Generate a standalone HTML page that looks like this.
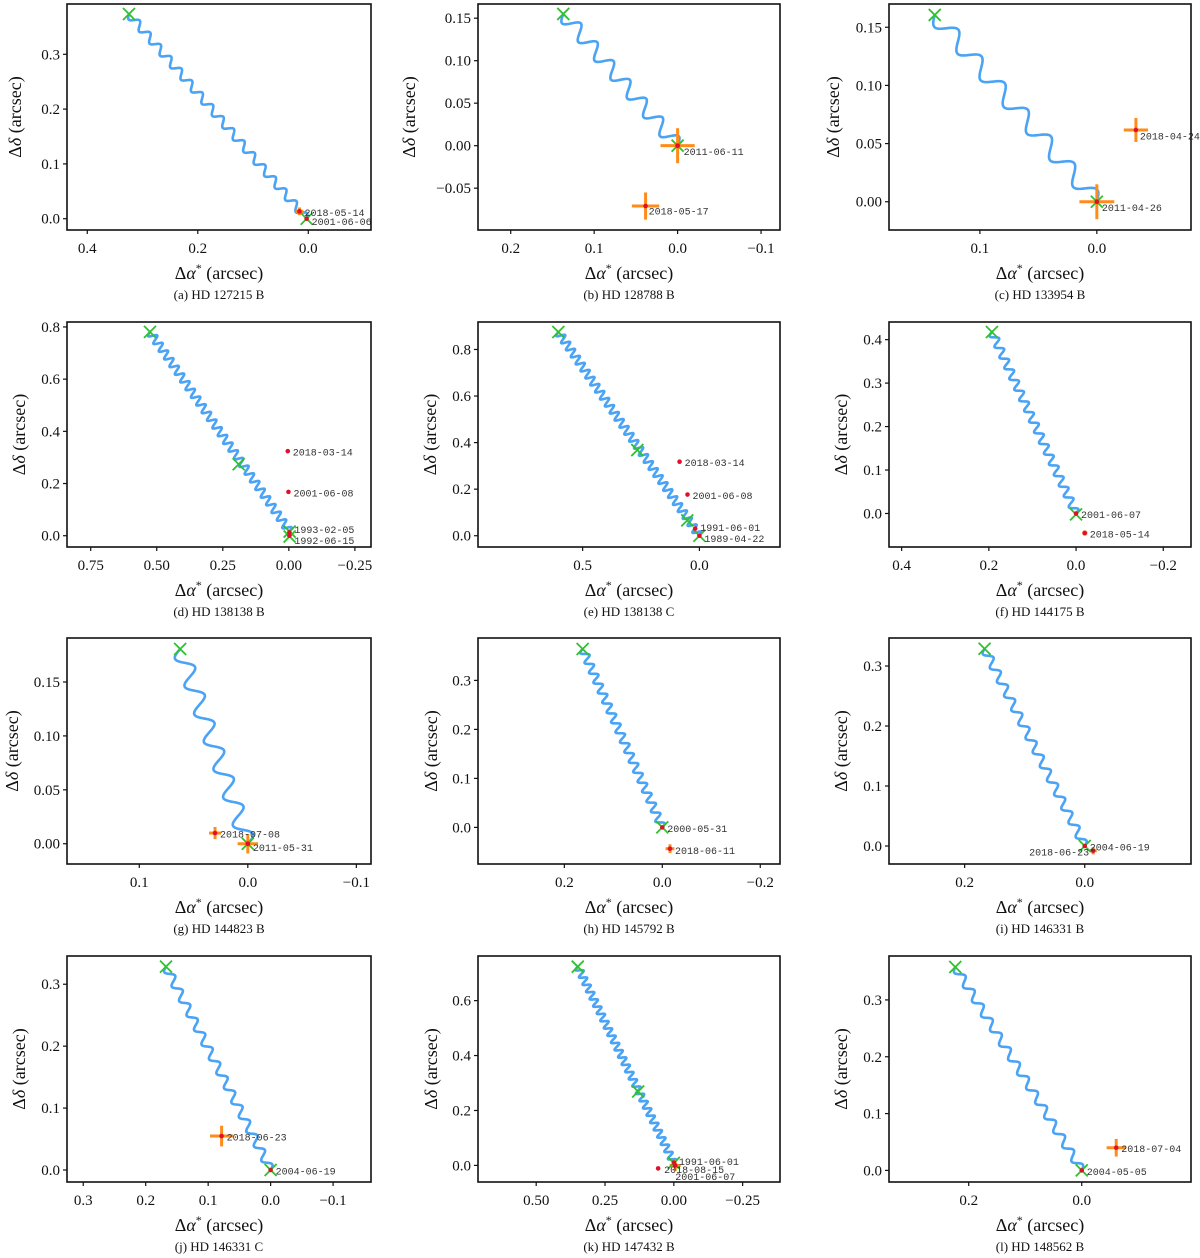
<!DOCTYPE html>
<html><head><meta charset="utf-8"><style>
html,body{margin:0;padding:0;background:#fff;}
svg{display:block;}
text{font-family:"Liberation Serif",serif;fill:#111;}
.tick{font-size:15px;}
.albl{font-size:18px;}
.cap{font-size:13px;}
.dl{font-family:"Liberation Mono",monospace;font-size:10px;fill:#333;}
</style></head><body>
<svg id="fig" width="1200" height="1258" viewBox="0 0 1200 1258" xmlns="http://www.w3.org/2000/svg"></svg>
<script>
// ---- data (per panel a..l) ----
const captions=["(a) HD 127215 B","(b) HD 128788 B","(c) HD 133954 B","(d) HD 138138 B","(e) HD 138138 C","(f) HD 144175 B","(g) HD 144823 B","(h) HD 145792 B","(i) HD 146331 B","(j) HD 146331 C","(k) HD 147432 B","(l) HD 148562 B"];
const xDomains=[[0.4367,-0.1135],[0.2392,-0.1227],[0.1777,-0.0805],[0.8397,-0.311],[0.948,-0.345],[0.429,-0.2636],[0.1666,-0.1135],[0.3763,-0.2403],[0.326,-0.177],[0.326,-0.1607],[0.7114,-0.3857],[0.341,-0.1933]];
const yDomains=[[-0.0206,0.3918],[-0.0992,0.1667],[-0.0243,0.170],[-0.0432,0.819],[-0.0484,0.918],[-0.0771,0.4406],[-0.0188,0.1908],[-0.0747,0.3865],[-0.03,0.3467],[-0.0194,0.3456],[-0.0604,0.7625],[-0.0204,0.3773]];
const xTicks=[[0.4,0.2,0],[0.2,0.1,0,-0.1],[0.1,0],[0.75,0.5,0.25,0,-0.25],[0.5,0],[0.4,0.2,0,-0.2],[0.1,0,-0.1],[0.2,0,-0.2],[0.2,0],[0.3,0.2,0.1,0,-0.1],[0.5,0.25,0,-0.25],[0.2,0]];
const xTickLabels=[["0.4","0.2","0.0"],["0.2","0.1","0.0","−0.1"],["0.1","0.0"],["0.75","0.50","0.25","0.00","−0.25"],["0.5","0.0"],["0.4","0.2","0.0","−0.2"],["0.1","0.0","−0.1"],["0.2","0.0","−0.2"],["0.2","0.0"],["0.3","0.2","0.1","0.0","−0.1"],["0.50","0.25","0.00","−0.25"],["0.2","0.0"]];
const yTicks=[[0,0.1,0.2,0.3],[-0.05,0,0.05,0.1,0.15],[0,0.05,0.1,0.15],[0,0.2,0.4,0.6,0.8],[0,0.2,0.4,0.6,0.8],[0,0.1,0.2,0.3,0.4],[0,0.05,0.1,0.15],[0,0.1,0.2,0.3],[0,0.1,0.2,0.3],[0,0.1,0.2,0.3],[0,0.2,0.4,0.6],[0,0.1,0.2,0.3]];
const yTickLabels=[["0.0","0.1","0.2","0.3"],["−0.05","0.00","0.05","0.10","0.15"],["0.00","0.05","0.10","0.15"],["0.0","0.2","0.4","0.6","0.8"],["0.0","0.2","0.4","0.6","0.8"],["0.0","0.1","0.2","0.3","0.4"],["0.00","0.05","0.10","0.15"],["0.0","0.1","0.2","0.3"],["0.0","0.1","0.2","0.3"],["0.0","0.1","0.2","0.3"],["0.0","0.2","0.4","0.6"],["0.0","0.1","0.2","0.3"]];
const trackStart=[[0.3245,0.3735],[0.137,0.155],[0.1386,0.1606],[0.5256,0.781],[0.604,0.875],[0.193,0.4176],[0.0623,0.1806],[0.1626,0.364],[0.1668,0.3288],[0.1675,0.3284],[0.349,0.7236],[0.2237,0.358]];
const trackEnd=[[0.003,0],[0,0],[0,0],[-0.003,0.016],[0,0],[0,0],[0,0],[0,0],[0,0],[0,0],[0,0.009],[0,0]];
const trackCycles=[17,7,7,26,29,17,7,18,14,14,27,14];
const parallaxAmp=[0.007,0.0085,0.007,0.015,0.017,0.009,0.0075,0.008,0.0067,0.0065,0.013,0.007];
const greenMarks=[
 [[0.3245,0.3735],[0.003,0]],
 [[0.137,0.155],[0,0]],
 [[0.1386,0.1606],[0,0]],
 [[0.5256,0.781],[0.19,0.274],[-0.003,0.016],[-0.003,-0.003]],
 [[0.604,0.875],[0.266,0.368],[0.052,0.066],[0,0]],
 [[0.193,0.4176],[0,-0.002]],
 [[0.0623,0.1806],[0,0]],
 [[0.1626,0.364],[0,0]],
 [[0.1668,0.3288],[0,0]],
 [[0.1675,0.3284],[0,0]],
 [[0.349,0.7236],[0.1295,0.269],[0,0.009]],
 [[0.2237,0.358],[0,0]]];
// observed points: [ra, dec, errRA, errDec]
const obsPoints=[
 [[0.016,0.0135,0.007,0.007],[0.003,0,0,0]],
 [[0,0,0.0205,0.0206],[0.0384,-0.071,0.0164,0.016]],
 [[0,0,0.0149,0.015],[-0.0334,0.0617,0.0104,0.0103]],
 [[0.004,0.324,0,0],[0.0015,0.168,0,0],[-0.002,0.0126,0,0],[-0.002,0,0,0]],
 [[0.085,0.318,0,0],[0.051,0.177,0,0],[0.018,0.031,0,0],[0,0,0,0]],
 [[0,0,0,0],[-0.020,-0.045,0.006,0.006]],
 [[0.0302,0.0099,0.0055,0.0056],[0,0,0.0094,0.009]],
 [[0,0,0,0],[-0.0157,-0.0435,0.009,0.009]],
 [[0,0,0,0],[-0.014,-0.008,0.006,0.006]],
 [[0.0785,0.0548,0.0186,0.0167],[0,0,0,0]],
 [[0,0.01,0,0],[0.057,-0.011,0,0],[-0.005,0.0,0.02,0.02]],
 [[-0.061,0.0399,0.017,0.0155],[0,0,0,0]]];
const obsDates=[
 ["2018-05-14","2001-06-06"],["2011-06-11","2018-05-17"],["2011-04-26","2018-04-24"],
 ["2018-03-14","2001-06-08","1993-02-05","1992-06-15"],["2018-03-14","2001-06-08","1991-06-01","1989-04-22"],
 ["2001-06-07","2018-05-14"],["2018-07-08","2011-05-31"],["2000-05-31","2018-06-11"],
 ["2004-06-19","2018-06-23"],["2018-06-23","2004-06-19"],["1991-06-01","2018-08-15","2001-06-07"],["2018-07-04","2004-05-05"]];
// ---- layout (pixels) ----
const colX=[[67,371],[478,780],[889,1191]];
const rowY=[[4,230],[322,547],[638,864],[956,1182]];
const ylabOff=[52,69,56,48,48,48,55,47,48,48,47,48];
const labelOff=[
 [[5,1],[5,3]],[[6,6],[3,5]],[[5,6],[4,6]],
 [[5,1],[5,1],[5,-3],[5,5]],[[5,1],[5,1],[5,-1],[5,3]],
 [[5,1],[5,1]],[[5,1],[5,4]],[[5,1],[5,2]],
 [[5,1],[-4,1,1]],[[5,1],[5,1]],[[5,-1],[6,1],[0,11]],[[5,1],[5,1]]];

const NS="http://www.w3.org/2000/svg";
const fig=document.getElementById('fig');
function mk(tag,parent,attrs){const e=document.createElementNS(NS,tag);for(const k in attrs)e.setAttribute(k,attrs[k]);parent.appendChild(e);return e;}
const letters="abcdefghijkl";

for(let i=0;i<12;i++){
  const [x0,x1]=colX[i%3],[y0,y1]=rowY[Math.floor(i/3)];
  const [L,R]=xDomains[i],[B,T]=yDomains[i];
  const sx=v=>x0+(v-L)/(R-L)*(x1-x0);
  const sy=v=>y1-(v-B)/(T-B)*(y1-y0);
  const g=mk('g',fig,{});
  
  
  const clipId='clip'+i;
  const cp=mk('clipPath',g,{id:clipId});
  mk('rect',cp,{x:x0,y:y0,width:x1-x0,height:y1-y0});
  const plot=mk('g',g,{'clip-path':'url(#'+clipId+')'});
  // track: linear motion + perpendicular parallax oscillation
  const [sxv,syv]=trackStart[i],[exv,eyv]=trackEnd[i];
  const N=trackCycles[i];
  const pxA=parallaxAmp[i]*Math.abs((x1-x0)/(R-L));
  const X0=sx(sxv),Y0=sy(syv),X1=sx(exv),Y1=sy(eyv);
  const len=Math.hypot(X1-X0,Y1-Y0),nx=-(Y1-Y0)/len,ny=(X1-X0)/len;
  let d='';
  for(let k=0;k<=N*40;k++){
    const t=k/(N*40),th=2*Math.PI*N*t,o=pxA*Math.sin(th);
    const px=X0+(X1-X0)*t+nx*o,py=Y0+(Y1-Y0)*t+ny*o;
    d+=(k?'L':'M')+px.toFixed(2)+','+py.toFixed(2);
  }
  const path=mk('path',plot,{d:d,fill:'none',stroke:'#4aa3f5','stroke-width':2.6,'stroke-linejoin':'round'});
  
  
  // error bars
  obsPoints[i].forEach((p,j)=>{
    if(p[2]>0||p[3]>0){
      const eb=mk('g',plot,{stroke:'#ff8c1a','stroke-width':3});
      
      
      mk('line',eb,{x1:sx(p[0]-p[2]),x2:sx(p[0]+p[2]),y1:sy(p[1]),y2:sy(p[1])});
      mk('line',eb,{x1:sx(p[0]),x2:sx(p[0]),y1:sy(p[1]-p[3]),y2:sy(p[1]+p[3])});
    }
  });
  // green markers
  greenMarks[i].forEach(m=>{
    const cx=sx(m[0]),cy=sy(m[1]),s=6;
    const gm=mk('path',plot,{d:`M${cx-s},${cy-s}L${cx+s},${cy+s}M${cx-s},${cy+s}L${cx+s},${cy-s}`,stroke:'#2ec22e','stroke-width':1.8,fill:'none'});
    
    
  });
  // red points + labels
  obsPoints[i].forEach((p,j)=>{
    const cx=sx(p[0]),cy=sy(p[1]);
    const c=mk('circle',plot,{cx:cx,cy:cy,r:2.3,fill:'#e0102a'});
    
    
    const o=labelOff[i][j];
    const tx=mk('text',g,{x:cx+o[0],y:cy+o[1]+3.5,class:'dl','text-anchor':o[2]?'end':'start'});
    tx.textContent=obsDates[i][j];
    
    
  });
  // frame
  const fr=mk('rect',g,{x:x0,y:y0,width:x1-x0,height:y1-y0,fill:'none',stroke:'#111','stroke-width':1.6});
  
  
  // ticks
  xTicks[i].forEach((v,j)=>{
    const px=sx(v);
    mk('line',g,{x1:px,x2:px,y1:y1,y2:y1+4,stroke:'#111','stroke-width':1.2});
    const t=mk('text',g,{x:px,y:y1+23,class:'tick','text-anchor':'middle'});
    t.textContent=xTickLabels[i][j];
    
    
  });
  yTicks[i].forEach((v,j)=>{
    const py=sy(v);
    mk('line',g,{x1:x0-4,x2:x0,y1:py,y2:py,stroke:'#111','stroke-width':1.2});
    const t=mk('text',g,{x:x0-7,y:py+5,class:'tick','text-anchor':'end'});
    t.textContent=yTickLabels[i][j];
    
    
  });
  // axis titles
  const xt=mk('text',g,{x:(x0+x1)/2,y:y1+49,class:'albl','text-anchor':'middle'});
  xt.innerHTML='Δ<tspan font-style="italic">α</tspan><tspan font-size="12" dy="-7">*</tspan><tspan dy="7"> (arcsec)</tspan>';
  
  
  const yc=x0-ylabOff[i],ym=(y0+y1)/2;
  const yt=mk('text',g,{x:yc,y:ym,class:'albl','text-anchor':'middle',transform:`rotate(-90 ${yc} ${ym}) translate(0 6)`});
  yt.innerHTML='Δ<tspan font-style="italic">δ</tspan> (arcsec)';
  
  
  const cap=mk('text',g,{x:(x0+x1)/2,y:y1+69,class:'cap','text-anchor':'middle'});
  cap.textContent=captions[i];
  
  
}
</script>
</body></html>
